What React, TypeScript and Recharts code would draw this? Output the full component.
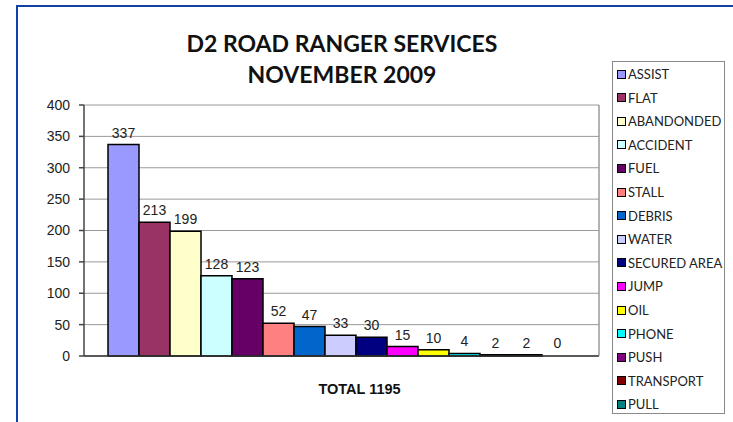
import React from 'react';
import { BarChart, Bar, XAxis, YAxis, CartesianGrid, LabelList } from 'recharts';

const categories = [
  'ASSIST', 'FLAT', 'ABANDONDED', 'ACCIDENT', 'FUEL', 'STALL', 'DEBRIS', 'WATER',
  'SECURED AREA', 'JUMP', 'OIL', 'PHONE', 'PUSH', 'TRANSPORT', 'PULL',
];
const counts = [337, 213, 199, 128, 123, 52, 47, 33, 30, 15, 10, 4, 2, 2, 0];
const colors = [
  '#9999ff', '#993366', '#ffffcc', '#ccffff', '#660066', '#ff8080', '#0066cc', '#ccccff',
  '#000080', '#ff00ff', '#ffff00', '#00ffff', '#800080', '#800000', '#008080',
];
const totalLabel = 'TOTAL 1195';
const yTicks = [0, 50, 100, 150, 200, 250, 300, 350, 400];
const titleLines = ['D2 ROAD RANGER SERVICES', 'NOVEMBER 2009'];

const row: Record<string, string | number> = { name: totalLabel };
categories.forEach((c, i) => {
  row[c] = counts[i];
});
const data = [row];

const AXIS_FONT = '"Liberation Sans", Arial, sans-serif';

export default function App() {
  return (
    <div style={{ position: 'absolute', left: 0, top: 0, width: 733, height: 422, background: '#fff' }}>
      {/* blue frame, top and left only */}
      <div
        style={{
          position: 'absolute', left: 16, top: 5, right: 0, bottom: 0,
          borderLeft: '2px solid #1140a8', borderTop: '2px solid #1140a8',
        }}
      />
      <div
        style={{
          position: 'absolute', left: 0, width: 684, top: 28, textAlign: 'center',
          fontFamily: 'Lato, sans-serif', fontWeight: 700, fontSize: 23, lineHeight: '31px', color: '#111',
        }}
      >
        {titleLines.map((t) => (
          <div key={t}>{t}</div>
        ))}
      </div>

      <BarChart
        width={733}
        height={422}
        data={data}
        margin={{ top: 105, right: 0, bottom: 0, left: 0 }}
        barCategoryGap={24}
        barGap={0}
        style={{ position: 'absolute', left: 0, top: 0 }}
      >
        <CartesianGrid vertical={false} stroke="#9a9a9a" strokeWidth={1} yAxisId="l" />
        <XAxis
          dataKey="name"
          height={66}
          tickLine={false}
          axisLine={{ stroke: '#333', strokeWidth: 1.5 }}
          tick={{ fontFamily: AXIS_FONT, fontSize: 14.5, fontWeight: 700, fill: '#111', dx: 18, dy: 20 }}
        />
        <YAxis
          yAxisId="l"
          width={84}
          domain={[0, 400]}
          ticks={yTicks}
          tickSize={5}
          tickMargin={9}
          axisLine={{ stroke: '#444', strokeWidth: 1.5 }}
          tickLine={{ stroke: '#444', strokeWidth: 1.5 }}
          tick={{ fontFamily: AXIS_FONT, fontSize: 14, fill: '#222' }}
        />
        <YAxis
          yAxisId="r"
          orientation="right"
          width={134}
          domain={[0, 400]}
          tick={false}
          tickLine={false}
          axisLine={{ stroke: '#9a9a9a', strokeWidth: 1.5 }}
        />
        {categories.map((c, i) => (
          <Bar
            key={c}
            yAxisId="l"
            dataKey={c}
            fill={colors[i]}
            fillOpacity={counts[i] === 0 ? 0 : 1}
            stroke={counts[i] === 0 ? 'none' : '#000'}
            strokeWidth={1.5}
            minPointSize={1}
            isAnimationActive={false}
          >
            <LabelList
              dataKey={c}
              position="top"
              offset={7}
              style={{ fontFamily: AXIS_FONT, fontSize: 14, fill: '#222' }}
            />
          </Bar>
        ))}
      </BarChart>

      {/* legend */}
      <div
        style={{
          position: 'absolute', left: 612, top: 61, width: 113, height: 353,
          border: '1px solid #8a8a8a', boxSizing: 'border-box', background: '#fff',
        }}
      >
        {categories.map((c, i) => (
          <div
            key={c}
            style={{
              position: 'absolute', left: 4, top: 3 + i * 23.6, height: 18,
              display: 'flex', alignItems: 'center',
              fontFamily: 'Lato, sans-serif', fontSize: 13, color: '#222', whiteSpace: 'nowrap',
            }}
          >
            <span
              style={{
                display: 'inline-block', width: 7, height: 7, background: colors[i],
                border: '1.5px solid #000', marginRight: 2,
              }}
            />
            {c}
          </div>
        ))}
      </div>
    </div>
  );
}
